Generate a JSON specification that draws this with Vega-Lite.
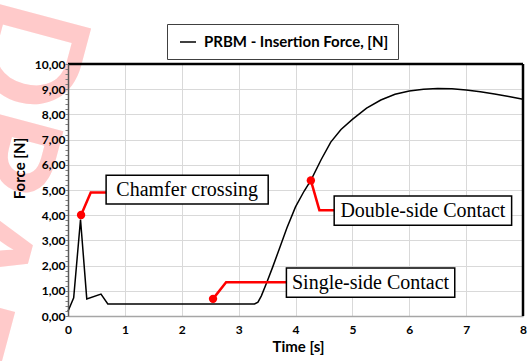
{
  "$schema": "https://vega.github.io/schema/vega-lite/v6.json",
  "width": 455,
  "height": 252,
  "autosize": {"type": "none"},
  "padding": {"left": 68, "top": 64, "right": 7, "bottom": 45},
  "background": "white",
  "config": {
    "view": {"stroke": null},
    "font": "Lato"
  },
  "resolve": {"axis": {"y": "independent"}},
  "datasets": {
    "curve": [
      {"t": 0, "v": 0.19},
      {"t": 0.1, "v": 0.72},
      {"t": 0.22, "v": 3.83},
      {"t": 0.33, "v": 0.68},
      {"t": 0.58, "v": 0.87},
      {"t": 0.7, "v": 0.48},
      {"t": 3.28, "v": 0.48},
      {"t": 3.34, "v": 0.55},
      {"t": 3.4, "v": 0.8},
      {"t": 3.5, "v": 1.36},
      {"t": 3.6, "v": 1.95},
      {"t": 3.71, "v": 2.63},
      {"t": 3.85, "v": 3.5},
      {"t": 4.0, "v": 4.33},
      {"t": 4.15, "v": 4.95},
      {"t": 4.27, "v": 5.38},
      {"t": 4.45, "v": 6.2},
      {"t": 4.62, "v": 6.9},
      {"t": 4.8, "v": 7.4},
      {"t": 5.0, "v": 7.8},
      {"t": 5.25, "v": 8.25},
      {"t": 5.5, "v": 8.57},
      {"t": 5.75, "v": 8.8},
      {"t": 6.0, "v": 8.93},
      {"t": 6.25, "v": 9.0},
      {"t": 6.5, "v": 9.03},
      {"t": 6.75, "v": 9.02},
      {"t": 7.0, "v": 8.97},
      {"t": 7.25, "v": 8.9},
      {"t": 7.5, "v": 8.81},
      {"t": 7.75, "v": 8.71},
      {"t": 8.0, "v": 8.6}
    ],
    "ann": [
      {"g": "chamfer", "o": 0, "t": 0.23, "v": 4.01, "dot": true},
      {"g": "chamfer", "o": 1, "t": 0.4, "v": 4.9, "dot": false},
      {"g": "chamfer", "o": 2, "t": 0.67, "v": 4.9, "dot": false},
      {"g": "single", "o": 0, "t": 2.55, "v": 0.68, "dot": true},
      {"g": "single", "o": 1, "t": 2.78, "v": 1.34, "dot": false},
      {"g": "single", "o": 2, "t": 3.84, "v": 1.34, "dot": false},
      {"g": "double", "o": 0, "t": 4.27, "v": 5.38, "dot": true},
      {"g": "double", "o": 1, "t": 4.42, "v": 4.2, "dot": false},
      {"g": "double", "o": 2, "t": 4.68, "v": 4.2, "dot": false}
    ],
    "boxes": [
      {"label": "Chamfer crossing", "x1": 0.67, "x2": 3.52, "y1": 4.44, "y2": 5.59, "tx": 2.095, "ty": 5.0},
      {"label": "Single-side Contact", "x1": 3.84, "x2": 6.8, "y1": 0.74, "y2": 1.9, "tx": 5.32, "ty": 1.3},
      {"label": "Double-side Contact", "x1": 4.68, "x2": 7.8, "y1": 3.6, "y2": 4.76, "tx": 6.24, "ty": 4.16}
    ],
    "mark": [
      {"word": "DRAFT", "t": -0.55, "v": 12.45}
    ],
    "frame": [
      {"t": 8, "v": 10}
    ]
  },
  "layer": [
    {
      "data": {"name": "mark"},
      "mark": {"type": "text", "font": "Lato", "fontWeight": "bold", "fontSize": 140, "color": "#ffcaca", "angle": 105, "align": "left", "baseline": "middle", "clip": false},
      "encoding": {
        "x": {"field": "t", "type": "quantitative"},
        "y": {"field": "v", "type": "quantitative", "axis": null},
        "text": {"field": "word"}
      }
    },
    {
      "data": {"name": "curve"},
      "mark": {"type": "line", "strokeWidth": 1.5, "clip": false},
      "encoding": {
        "x": {
          "field": "t", "type": "quantitative",
          "scale": {"domain": [0, 8], "nice": false, "zero": false},
          "axis": {
            "values": [0, 1, 2, 3, 4, 5, 6, 7, 8],
            "tickCount": 20,
            "format": "d",
            "title": "Time [s]",
            "titleFont": "Lato", "titleFontSize": 15, "titleFontWeight": "bold", "titleColor": "black",
            "titleX": 230, "titleY": 30, "titleBaseline": "middle",
            "labelFont": "Lato", "labelFontSize": 12, "labelFontWeight": "bold", "labelColor": "black",
            "labelPadding": 8, "labelFlush": false, "labelOverlap": false,
            "ticks": false,
            "domainColor": "#a6a6a6", "domainWidth": 1.5,
            "grid": true, "gridColor": "#d9d9d9", "gridWidth": 1
          }
        },
        "y": {
          "field": "v", "type": "quantitative",
          "scale": {"domain": [0, 10], "nice": false, "zero": false},
          "axis": {
            "orient": "left",
            "values": [1, 2, 3, 4, 5, 6, 7, 8, 9],
            "tickCount": 20,
            "title": null,
            "labels": false,
            "ticks": false,
            "domain": false,
            "zindex": 0,
            "grid": true, "gridColor": "#d9d9d9", "gridWidth": 1
          }
        },
        "color": {
          "datum": "PRBM - Insertion Force, [N]",
          "type": "nominal",
          "scale": {"range": ["black"]},
          "legend": {
            "title": null,
            "orient": "none",
            "legendX": 99,
            "legendY": -40,
            "symbolType": "stroke",
            "symbolSize": 256,
            "symbolStrokeWidth": 1.5,
            "symbolOffset": 3,
            "labelFont": "Lato", "labelFontSize": 15, "labelFontWeight": "bold", "labelColor": "black",
            "labelOffset": 7,
            "labelLimit": 0,
            "padding": 9,
            "strokeColor": "#404040",
            "fillColor": "white"
          }
        }
      }
    },
    {
      "data": {"name": "ann"},
      "mark": {"type": "line", "color": "#ff0000", "strokeWidth": 2.5, "clip": false},
      "encoding": {
        "x": {"field": "t", "type": "quantitative"},
        "y": {"field": "v", "type": "quantitative", "axis": null},
        "detail": {"field": "g"},
        "order": {"field": "o"}
      }
    },
    {
      "data": {"name": "ann"},
      "transform": [{"filter": "datum.dot"}],
      "mark": {"type": "circle", "color": "#ff0000", "size": 70, "opacity": 1},
      "encoding": {
        "x": {"field": "t", "type": "quantitative"},
        "y": {"field": "v", "type": "quantitative", "axis": null}
      }
    },
    {
      "data": {"name": "boxes"},
      "mark": {"type": "rect", "fill": "white", "stroke": "black", "strokeWidth": 1.5},
      "encoding": {
        "x": {"field": "x1", "type": "quantitative"},
        "x2": {"field": "x2"},
        "y": {"field": "y1", "type": "quantitative", "axis": null},
        "y2": {"field": "y2"}
      }
    },
    {
      "data": {"name": "boxes"},
      "mark": {"type": "text", "font": "Liberation Serif", "fontSize": 20, "color": "black", "align": "center", "baseline": "middle"},
      "encoding": {
        "x": {"field": "tx", "type": "quantitative"},
        "y": {"field": "ty", "type": "quantitative", "axis": null},
        "text": {"field": "label"}
      }
    },
    {
      "data": {"name": "frame"},
      "mark": {"type": "rule", "color": "black", "strokeWidth": 2.5},
      "encoding": {
        "y": {
          "field": "v", "type": "quantitative",
          "axis": {
            "orient": "left",
            "values": [0,0.2,0.4,0.6,0.8,1,1.2,1.4,1.6,1.8,2,2.2,2.4,2.6,2.8,3,3.2,3.4,3.6,3.8,4,4.2,4.4,4.6,4.8,5,5.2,5.4,5.6,5.8,6,6.2,6.4,6.6,6.8,7,7.2,7.4,7.6,7.8,8,8.2,8.4,8.6,8.8,9,9.2,9.4,9.6,9.8,10],
            "tickCount": 100,
            "labelExpr": "abs(datum.value - round(datum.value)) < 0.001 ? replace(format(datum.value, '.2f'), '.', ',') : ''",
            "title": "Force [N]",
            "titleFont": "Lato", "titleFontSize": 15, "titleFontWeight": "bold", "titleColor": "black",
            "titleX": -49, "titleY": 104, "titleAngle": -90, "titleAlign": "center", "titleBaseline": "middle",
            "labelFont": "Lato", "labelFontSize": 12, "labelFontWeight": "bold", "labelColor": "black",
            "labelPadding": 0, "labelFlush": false, "labelOverlap": false, "labelBound": false,
            "tickSize": 3, "tickColor": "#7f7f7f", "tickWidth": 1,
            "domainColor": "#595959", "domainWidth": 1.5,
            "zindex": 1,
            "grid": false
          }
        }
      }
    },
    {
      "data": {"name": "frame"},
      "mark": {"type": "rule", "color": "black", "strokeWidth": 2.5},
      "encoding": {"x": {"field": "t", "type": "quantitative"}}
    }
  ]
}
